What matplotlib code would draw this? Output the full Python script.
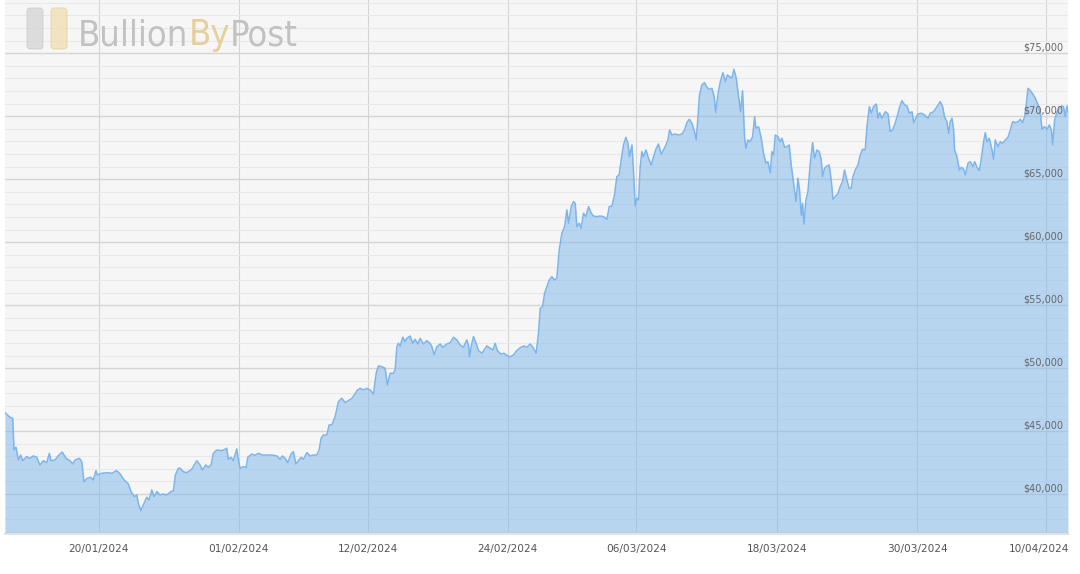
import pandas as pd
import matplotlib
matplotlib.use("Agg")
import matplotlib.pyplot as plt
import matplotlib.transforms as mtransforms
from matplotlib.patches import FancyBboxPatch
from matplotlib.ticker import MultipleLocator

# Bitcoin price (USD)
start = pd.Timestamp("2024-01-12")
days = [
    0.00, 0.43, 0.66, 0.77, 0.94, 1.14, 1.34, 1.51, 1.86, 2.14, 2.42, 2.71, 2.99, 3.28, 3.57, 3.79,
    3.93, 4.28, 4.56, 4.90, 5.22, 5.56, 5.79, 5.99, 6.36, 6.56, 6.76, 7.04, 7.33, 7.55, 7.78, 7.90,
    8.27, 8.70, 9.13, 9.55, 9.84, 10.18, 10.55, 10.78, 11.06, 11.27, 11.40, 11.61, 11.83, 12.12,
    12.32, 12.55, 12.75, 12.98, 13.26, 13.54, 13.83, 14.17, 14.40, 14.57, 14.82, 14.97, 15.25,
    15.54, 15.97, 16.40, 16.68, 16.88, 17.17, 17.39, 17.62, 17.82, 18.11, 18.54, 18.82, 18.96,
    19.10, 19.33, 19.53, 19.82, 19.96, 20.10, 20.38, 20.62, 20.76, 21.10, 21.39, 21.67, 22.01,
    22.39, 22.81, 23.24, 23.52, 23.72, 23.95, 24.18, 24.46, 24.66, 24.87, 25.09, 25.32, 25.52,
    25.81, 26.09, 26.37, 26.66, 26.86, 27.03, 27.23, 27.52, 27.72, 27.95, 28.23, 28.51, 28.80,
    29.08, 29.37, 29.66, 29.94, 30.09, 30.37, 30.65, 30.94, 31.22, 31.51, 31.74, 31.93, 32.22,
    32.51, 32.70, 32.93, 33.22, 33.36, 33.51, 33.64, 33.79, 34.02, 34.22, 34.36, 34.64, 34.87,
    35.07, 35.30, 35.50, 35.78, 36.07, 36.35, 36.50, 36.70, 36.93, 37.21, 37.44, 37.78, 38.07,
    38.35, 38.64, 38.92, 39.20, 39.49, 39.63, 39.72, 39.86, 40.06, 40.29, 40.49, 40.78, 40.97,
    41.20, 41.49, 41.72, 41.91, 42.11, 42.40, 42.68, 42.97, 43.20, 43.48, 43.77, 44.11, 44.40,
    44.63, 44.91, 45.14, 45.42, 45.62, 45.77, 45.97, 46.14, 46.34, 46.54, 46.77, 46.99, 47.19,
    47.39, 47.62, 47.85, 48.05, 48.19, 48.42, 48.61, 48.76, 48.90, 49.10, 49.27, 49.47, 49.67,
    49.90, 50.13, 50.32, 50.61, 50.90, 51.18, 51.47, 51.67, 51.90, 52.12, 52.32, 52.52, 52.69,
    52.89, 53.09, 53.27, 53.40, 53.61, 53.74, 53.89, 54.03, 54.17, 54.32, 54.46, 54.60, 54.81,
    55.03, 55.26, 55.46, 55.66, 55.88, 56.11, 56.31, 56.52, 56.69, 56.83, 57.03, 57.31, 57.59,
    57.88, 58.11, 58.31, 58.51, 58.74, 58.96, 59.11, 59.25, 59.39, 59.59, 59.82, 60.02, 60.22,
    60.45, 60.65, 60.77, 61.00, 61.19, 61.39, 61.60, 61.77, 61.96, 62.16, 62.33, 62.53, 62.73,
    62.90, 63.07, 63.24, 63.36, 63.53, 63.73, 63.93, 64.10, 64.21, 64.44, 64.67, 64.86, 65.07,
    65.24, 65.44, 65.58, 65.72, 65.87, 66.10, 66.29, 66.44, 66.66, 66.87, 67.06, 67.23, 67.43,
    67.64, 67.81, 67.94, 68.09, 68.20, 68.32, 68.49, 68.66, 68.86, 69.06, 69.23, 69.43, 69.63,
    69.80, 69.91, 70.08, 70.29, 70.48, 70.65, 70.80, 70.99, 71.23, 71.42, 71.62, 71.79, 71.99,
    72.19, 72.36, 72.51, 72.71, 72.94, 73.14, 73.33, 73.56, 73.71, 73.91, 74.08, 74.27, 74.51,
    74.65, 74.79, 74.99, 75.28, 75.51, 75.70, 75.90, 76.13, 76.36, 76.47, 76.70, 76.93, 77.13,
    77.33, 77.56, 77.70, 77.84, 78.07, 78.36, 78.64, 78.93, 79.12, 79.41, 79.70, 79.98, 80.18,
    80.35, 80.55, 80.69, 80.83, 80.98, 81.12, 81.20, 81.41, 81.61, 81.78, 81.97, 82.12, 82.35,
    82.55, 82.75, 82.92, 83.12, 83.32, 83.49, 83.68, 83.83, 83.97, 84.17, 84.40, 84.54, 84.68,
    84.91, 85.11, 85.31, 85.54, 85.77, 85.97, 86.17, 86.40, 86.63, 86.82, 87.02, 87.19, 87.31,
    87.48, 87.68, 87.88, 88.11, 88.34, 88.54, 88.68, 88.90, 89.11, 89.30, 89.48, 89.59, 89.76,
    89.97, 90.16, 90.36, 90.52, 90.66, 90.81, 90.90,
]
prices = [
    46460, 46100, 46020, 43500, 43720, 42710, 43100, 42650, 42970, 42840, 43030, 42920, 42310, 42650, 42490, 43240,
    42650, 42710, 43050, 43340, 42840, 42650, 42390, 42710, 42840, 42570, 40980, 41260, 41330, 41120, 41860, 41520,
    41650, 41700, 41650, 41860, 41600, 41120, 40800, 40190, 39790, 39930, 39270, 38680, 39140, 39750,
    39530, 40330, 39790, 40190, 39930, 40010, 39930, 40190, 40270, 41520, 42050, 42050, 41780,
    41700, 41970, 42650, 42310, 41910, 42310, 42130, 42310, 43240, 43500, 43450, 43560, 43640,
    42760, 42920, 42650, 43580, 42710, 42050, 42180, 42100, 42920, 43180, 43080, 43240, 43100,
    43100, 43100, 43030, 42760, 43030, 42840, 42490, 43180, 43370, 42390, 42650, 42920, 42760,
    43290, 43030, 43100, 43100, 43500, 44430, 44690, 44690, 45490, 45490, 46150, 47340, 47610,
    47260, 47420, 47600, 47950, 48210, 48400, 48270, 48400, 48270, 47950, 49590, 50170, 50120,
    49990, 48660, 49590, 49590, 49860, 51710, 51970, 51760, 52450, 52100, 52370, 52550, 51970,
    52290, 51920, 52370, 51920, 52180, 51970, 51710, 51050, 51710, 51920, 51660, 51920, 52020,
    52450, 52240, 51840, 51660, 52240, 51840, 50910, 51710, 52500, 51970, 51390, 51180, 51440,
    51760, 51580, 51440, 51970, 51390, 51120, 51180, 50970, 50910, 51050, 51390, 51660, 51760,
    51660, 51920, 51660, 51180, 52770, 54750, 54880, 55940, 56470, 57000, 57260, 57000, 57140,
    59360, 60710, 61230, 62560, 61500, 62820, 63220, 63090, 61230, 61500, 61110, 62300, 62030,
    62820, 62300, 62080, 62030, 62080, 62030, 61820, 62820, 62880, 63750, 65200, 65340, 66530,
    67720, 68330, 67850, 66790, 67720, 65730, 62880, 63490, 63350, 66000, 67190, 66790, 67320,
    66660, 66130, 66790, 67380, 67800, 67000, 67320, 67720, 68120, 68910, 68510, 68590, 68510,
    68590, 68910, 69490, 69760, 69440, 68780, 68120, 69840, 71690, 72480, 72670, 72300, 72140,
    72220, 71550, 70300, 71950, 72820, 73460, 72750, 73280, 73140, 73020, 73730, 73020, 71550,
    70360, 72030, 68380, 67460, 68120, 67980, 68380, 69970, 69050, 69170, 68250, 67060, 66270,
    66390, 65520, 67190, 66930, 68510, 68380, 67980, 68250, 67540, 67580, 67720, 66130, 64680,
    63220, 65080, 64150, 62160, 63090, 61450, 63350, 64010, 66270, 67900, 66660, 67320, 67190,
    66530, 65200, 65870, 66050, 66130, 64940, 63410, 63610, 63880, 64410, 64810, 65730, 64940,
    64280, 64280, 65200, 65730, 66130, 66930, 67380, 67320, 69170, 70760, 70240, 70760, 70970,
    69840, 70280, 69840, 70360, 70180, 68780, 68910, 69490, 70200, 70630, 71240, 70900, 70820,
    70240, 70360, 69490, 69760, 70180, 70240, 70100, 69840, 70240, 70360, 70760, 71160, 70760,
    69920, 69570, 68650, 69570, 69840, 68910, 67320, 66790, 65730, 65950, 65790, 65340, 66270,
    66390, 66000, 66390, 65950, 65680, 66660, 67980, 68700, 67980, 68250, 67320, 66580, 68120,
    67580, 67980, 67850, 68120, 68330, 68910, 69570, 69490, 69570, 69760, 69490, 69970, 70760,
    72220, 72030, 71770, 71430, 70900, 70240, 68970, 69170, 68970, 69310, 68910, 67720, 69700,
    70360, 70630, 70820, 70760, 69970, 70820, 70360,
]
tick_labels = ["20/01/2024", "01/02/2024", "12/02/2024", "24/02/2024",
               "06/03/2024", "18/03/2024", "30/03/2024", "10/04/2024"]
y_labels = [40000, 45000, 50000, 55000, 60000, 65000, 70000, 75000]
y_min, y_max = 36830, 79230

x = (start + pd.to_timedelta(days, unit="D")).to_numpy()

fig = plt.figure(figsize=(10.8, 5.74), dpi=100, facecolor="white")
ax = fig.add_axes([5 / 1080, 40 / 574, 1063 / 1080, 534 / 574])
ax.set_facecolor("#f6f6f6")

line_col = "#7cb5ec"
ax.fill_between(x, prices, y_min, color=line_col, alpha=0.5, lw=0, zorder=2)
ax.plot(x, prices, color=line_col, lw=1.1, zorder=3)

ax.set_xlim(x[0], x[-1])
ax.set_ylim(y_min, y_max)

# grid
ax.yaxis.set_major_locator(MultipleLocator(5000))
ax.yaxis.set_minor_locator(MultipleLocator(1000))
ax.grid(axis="y", which="major", color="#d4d4d4", lw=1.0, zorder=1)
ax.grid(axis="y", which="minor", color="#e8e8e8", lw=0.8, zorder=1)
tick_dates = pd.to_datetime(tick_labels, format="%d/%m/%Y")
ax.set_xticks(tick_dates)
ax.set_xticklabels(tick_labels)
ax.grid(axis="x", which="major", color="#d4d4d4", lw=0.8, zorder=1)
ax.set_axisbelow(True)

ax.tick_params(axis="x", length=0, pad=7, labelsize=7.6, labelcolor="#555555")
ax.tick_params(axis="y", which="both", length=0, labelleft=False)
for s in ["top", "left", "right"]:
    ax.spines[s].set_visible(False)
ax.spines["bottom"].set_color("#e2e2e2")
ax.spines["bottom"].set_linewidth(1.5)

# last date label is pulled inside the plot, like the original
last = ax.get_xticklabels()[-1]
last.set_transform(last.get_transform() +
                   mtransforms.ScaledTranslation(-0.07, 0, fig.dpi_scale_trans))

for v in y_labels:
    ax.annotate(f"${v:,}", xy=(1, v), xycoords=("axes fraction", "data"),
                xytext=(-5, 1), textcoords="offset pixels",
                ha="right", va="bottom", fontsize=7, color="#666666", zorder=5)

# BullionByPost watermark
ident = mtransforms.IdentityTransform()
fig.patches.append(FancyBboxPatch((27, 525), 16, 41, boxstyle="round,pad=0,rounding_size=3",
                                  transform=ident, fc="#d6d6d6", ec="#c8c8c8", lw=0.6, alpha=0.8))
fig.patches.append(FancyBboxPatch((51, 525), 16, 41, boxstyle="round,pad=0,rounding_size=3",
                                  transform=ident, fc="#f1dfb4", ec="#e6cf98", lw=0.6, alpha=0.8))
logo_kw = dict(fontsize=26, family="DejaVu Sans", fontstretch="condensed",
               va="bottom", ha="left")
t1 = fig.text(78 / 1080, 1 - 52 / 574, "Bullion", color="#c2c2c2", **logo_kw)
t2 = ax.annotate("By", xy=(1, 0), xycoords=t1, color="#e6d09a",
                 annotation_clip=False, **logo_kw)
ax.annotate("Post", xy=(1, 0), xycoords=t2, color="#c2c2c2",
            annotation_clip=False, **logo_kw)

fig.savefig("out.png", dpi=100, facecolor="white")
